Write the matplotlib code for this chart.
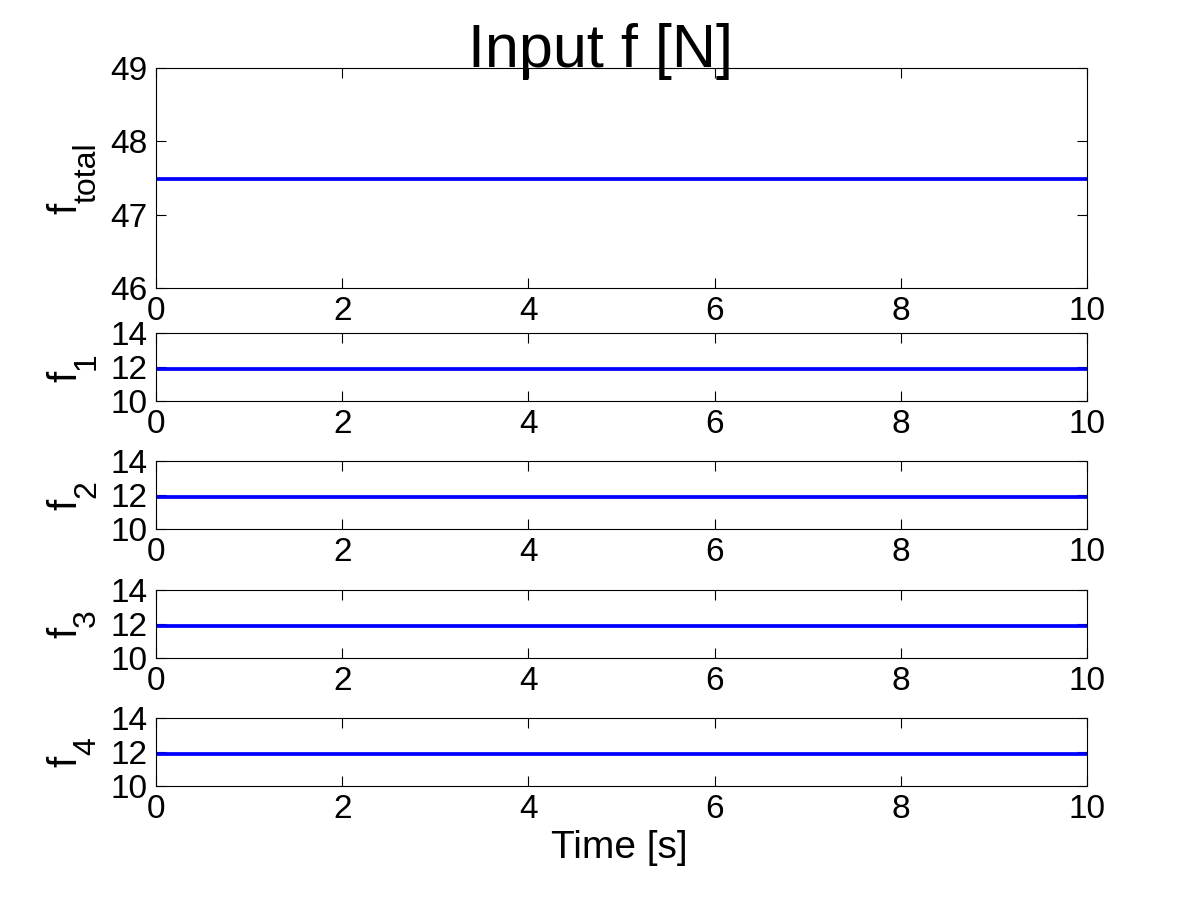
import numpy as np
import matplotlib
matplotlib.use("Agg")
import matplotlib.pyplot as plt
from matplotlib.transforms import IdentityTransform

plt.rcParams["font.family"] = ["Liberation Sans", "DejaVu Sans"]

# data
t = [0, 10]
f_total = [47.48, 47.48]
f_motors = [[11.87, 11.87], [11.87, 11.87], [11.87, 11.87], [11.87, 11.87]]
label_main = ["f", "f", "f", "f", "f"]
label_sub = ["total", "1", "2", "3", "4"]
xticks = [0, 2, 4, 6, 8, 10]
yticks_total = [46, 47, 48, 49]
yticks_motor = [10, 12, 14]

W, H = 1201, 901
fig = plt.figure(figsize=(W / 100, H / 100), dpi=100)

# axes boxes in pixels: (top, bottom)
left, right = 156, 1087
boxes = [(68, 288), (333, 401), (461, 529), (590, 658), (718, 786)]

axes = []
for top, bot in boxes:
    ax = fig.add_axes([left / W, 1 - bot / H, (right - left) / W, (bot - top) / H])
    axes.append(ax)

series = [f_total] + f_motors
for i, ax in enumerate(axes):
    ax.plot(t, series[i], color="#0000ff", linewidth=2.7, solid_capstyle="butt")
    ax.set_xlim(0, 10)
    ax.set_xticks(xticks)
    if i == 0:
        ax.set_ylim(46, 49)
        ax.set_yticks(yticks_total)
    else:
        ax.set_ylim(10, 14)
        ax.set_yticks(yticks_motor)
    ax.tick_params(direction="in", length=7, width=0.8, labelsize=24, pad=6,
                   top=True, right=True)
    for s in ax.spines.values():
        s.set_linewidth(0.8)

# y labels: "f" with a full-size subscript, rotated
renderer = fig.canvas.get_renderer()
ident = IdentityTransform()
for i, (top, bot) in enumerate(boxes):
    tmp_f = fig.text(0, 0, label_main[i], fontsize=29)
    tmp_s = fig.text(0, 0, label_sub[i], fontsize=23)
    wf = tmp_f.get_window_extent(renderer).width
    ws = tmp_s.get_window_extent(renderer).width
    tmp_f.remove()
    tmp_s.remove()
    yc = H - (top + bot) / 2
    y0 = yc - (wf + ws) / 2
    fig.text(76, y0, label_main[i], fontsize=29, rotation=90, rotation_mode="anchor",
             ha="left", va="baseline", transform=ident)
    fig.text(95, y0 + wf, label_sub[i], fontsize=23, rotation=90, rotation_mode="anchor",
             ha="left", va="baseline", transform=ident)

fig.text(619 / W, 1 - 858 / H, "Time [s]", fontsize=28, ha="center", va="baseline")
fig.text(600 / W, 1 - 67 / H, "Input f [N]", fontsize=44, ha="center", va="baseline")

fig.savefig("out.png", dpi=100)
